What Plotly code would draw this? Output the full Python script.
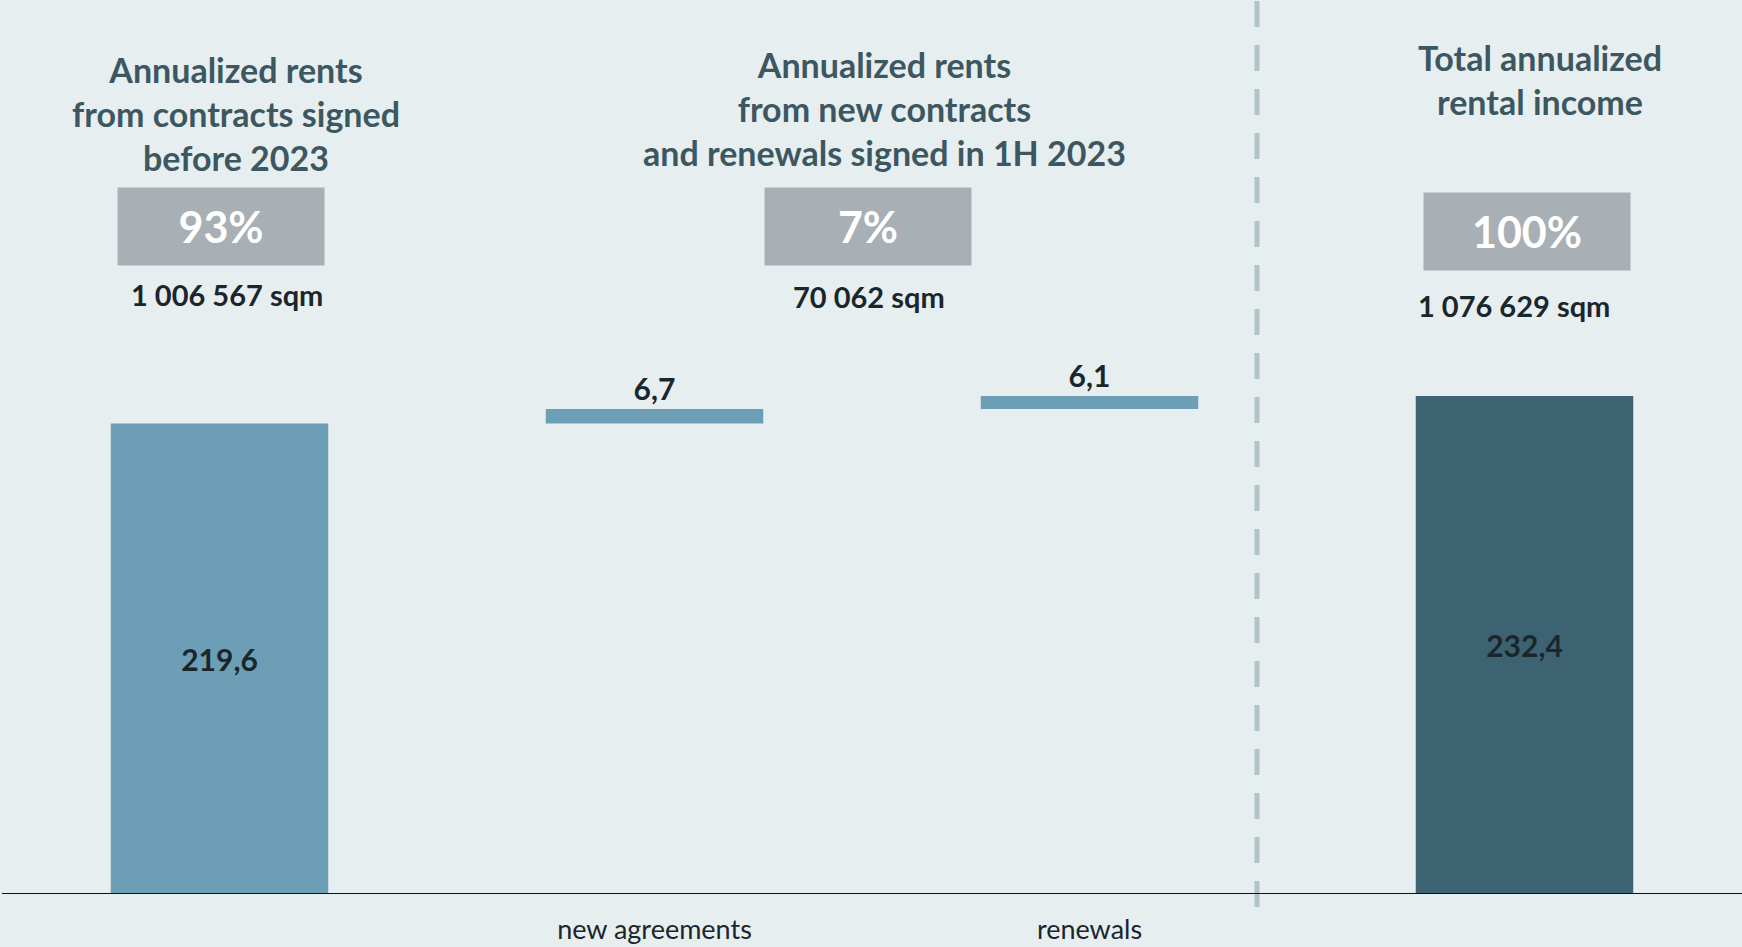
import plotly.graph_objects as go

# data
categories = ["before 2023", "new agreements", "renewals", "total"]
tick_labels = ["", "new agreements", "renewals", ""]
values = [219.6, 6.7, 6.1, 232.4]
measures = ["relative", "relative", "relative", "total"]
shares = ["93%", "7%", "100%"]
areas = ["1 006 567 sqm", "70 062 sqm", "1 076 629 sqm"]
titles = [
    "Annualized rents<br>from contracts signed<br>before 2023",
    "Annualized rents<br>from new contracts<br>and renewals signed in 1H 2023",
    "Total annualized<br>rental income",
]

W, H = 1742, 947
BASE = 894  # pixel row of the zero line
FONT = "Lato"
BG = "#E6EEF0"
TITLE_C = "#3D5761"
DARK = "#1B262C"


def px_x(p):
    return (p - 2) / 1740


def px_y(p):
    return (BASE - p) / BASE


labels = [f"{v:.1f}".replace(".", ",") for v in values]

fig = go.Figure(go.Waterfall(
    x=categories,
    y=values,
    measure=measures,
    text=labels,
    textposition=["inside", "outside", "outside", "inside"],
    insidetextanchor="middle",
    textfont=dict(family=FONT, size=30, color=DARK, weight="bold"),
    increasing=dict(marker=dict(color="#6C9FB5")),
    totals=dict(marker=dict(color="#3D6373")),
    connector=dict(visible=False),
    width=0.5,
    cliponaxis=False,
))

anns = []
# section titles
for t, x, y in zip(titles, [236, 884, 1540], [113, 109, 79]):
    anns.append(dict(text=t, x=px_x(x), y=px_y(y), xref="paper", yref="paper",
                     showarrow=False, xanchor="center", yanchor="middle",
                     font=dict(family=FONT, size=34, color=TITLE_C, weight="bold")))
# grey share boxes
for s, x, y in zip(shares, [221, 868, 1527], [227, 227, 231]):
    anns.append(dict(text=s, x=px_x(x), y=px_y(y), xref="paper", yref="paper",
                     showarrow=False, xanchor="center", yanchor="middle",
                     width=206, height=77, bgcolor="#A9B0B5", borderpad=0,
                     font=dict(family=FONT, size=43, color="white", weight="bold")))
# areas
for a, x, y in zip(areas, [227, 869, 1514], [294, 296, 306]):
    anns.append(dict(text=a, x=px_x(x), y=px_y(y), xref="paper", yref="paper",
                     showarrow=False, xanchor="center", yanchor="middle",
                     font=dict(family=FONT, size=29, color=DARK, weight="bold")))

fig.update_layout(
    width=W, height=H,
    margin=dict(l=2, r=0, t=0, b=H - BASE),
    paper_bgcolor=BG, plot_bgcolor=BG,
    showlegend=False,
    annotations=anns,
    shapes=[
        dict(type="line", xref="paper", yref="paper", x0=px_x(1257), x1=px_x(1257),
             y0=px_y(907), y1=1.0, line=dict(color="#AFC3C8", width=5, dash="26px,18px"),
             layer="below"),
    ],
    xaxis=dict(
        tickmode="array", tickvals=categories, ticktext=tick_labels,
        showgrid=False, zeroline=False, ticks="", showline=False,
        tickfont=dict(family=FONT, size=27, color=DARK),
        ticklabelstandoff=17,
    ),
    yaxis=dict(
        range=[0, BASE / 2.143], visible=False, showgrid=False,
        zeroline=True,
    ),
)
fig.add_hline(y=0, line=dict(color="#111111", width=2))

fig.write_html("out.html", config={"displayModeBar": False},
               post_script="document.body.style.margin='0';")
